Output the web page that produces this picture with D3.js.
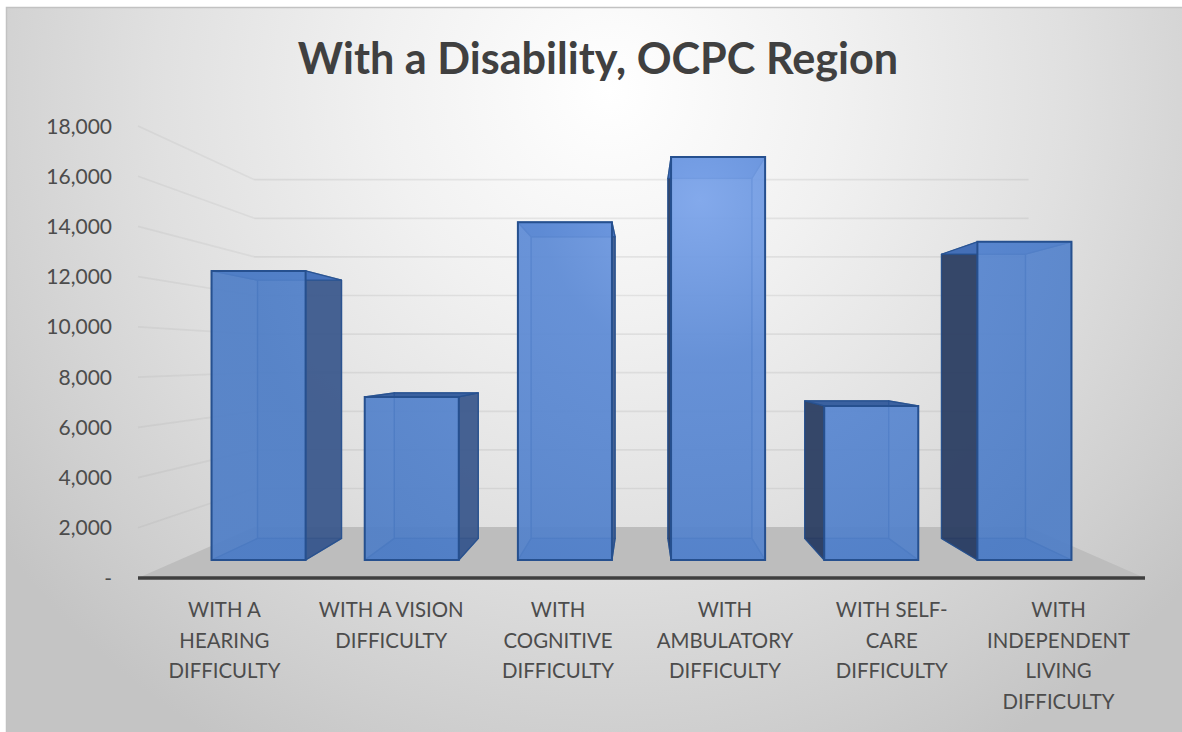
<!DOCTYPE html>
<html><head><meta charset="utf-8">
<script src="https://cdn.jsdelivr.net/npm/d3@7/dist/d3.min.js"></script>
<style>html,body{margin:0;padding:0;background:#fff}svg{display:block}</style>
</head><body><div id="c"></div>
<script>
const categories = [["WITH A","HEARING","DIFFICULTY"],["WITH A VISION","DIFFICULTY"],["WITH","COGNITIVE","DIFFICULTY"],["WITH","AMBULATORY","DIFFICULTY"],["WITH SELF-","CARE","DIFFICULTY"],["WITH","INDEPENDENT","LIVING","DIFFICULTY"]];
const values = [12540, 7070, 14650, 17480, 6680, 13800];
const yTicks = [0,2000,4000,6000,8000,10000,12000,14000,16000,18000];
const title = "With a Disability, OCPC Region";

const W=1182,H=732;
const svg=d3.select("#c").append("svg").attr("width",W).attr("height",H);
const defs=svg.append("defs");
const bg=defs.append("radialGradient").attr("id","bg").attr("gradientUnits","userSpaceOnUse")
  .attr("cx",0).attr("cy",0).attr("r",1).attr("gradientTransform","translate(610 90) scale(760 760)");
[[0,"#ffffff"],[0.3,"#f1f1f1"],[0.6,"#e0e0e0"],[0.85,"#cfcfcf"],[1,"#c4c4c4"]].forEach(s=>bg.append("stop").attr("offset",s[0]).attr("stop-color",s[1]));
const fg=defs.append("radialGradient").attr("id","face").attr("gradientUnits","userSpaceOnUse")
  .attr("cx",700).attr("cy",200).attr("r",460);
[[0,"#7ea6ec"],[0.35,"#5f8cd6"],[1,"#4f7ec6"]].forEach(s=>fg.append("stop").attr("offset",s[0]).attr("stop-color",s[1]));

svg.append("rect").attr("x",6).attr("y",7).attr("width",W-6).attr("height",H-7).attr("fill","url(#bg)");
svg.append("path").attr("fill","none").attr("stroke","#c2c2c2").attr("stroke-width",1.5).attr("d",d3.line()([[6.5,H],[6.5,7.5],[W,7.5]]));

const x=d3.scaleBand().domain(d3.range(categories.length)).range([141,1142]).paddingInner(0.386).paddingOuter(0.193);
const y=d3.scaleLinear().domain([0,18000]).range([578,126]);
const VP=[641.5,358];
const depth=d3.scaleLinear().domain([0,1]).range([1,0.7686]);
const P=(mx,my,d)=>{const s=depth(d);return [VP[0]+(mx-VP[0])*s,VP[1]+(my-VP[1])*s];};
const poly=pts=>"M"+pts.map(p=>p.join(",")).join("L")+"Z";

svg.append("path").attr("d",poly([P(138,y(0),0),P(1145,y(0),0),P(1145,y(0),1),P(138,y(0),1)])).attr("fill","#bdbdbd");
yTicks.slice(1).forEach(t=>{
  svg.append("path").attr("fill","none").attr("stroke","#8c8c8c").attr("stroke-opacity",0.11).attr("stroke-width",1.7)
    .attr("d",d3.line()([P(138,y(t),0),P(138,y(t),1)]));
  svg.append("path").attr("fill","none").attr("stroke","#8c8c8c").attr("stroke-opacity",0.17).attr("stroke-width",1.7)
    .attr("d",d3.line()([P(138,y(t),1),P(1145,y(t),1)]));
});
svg.append("path").attr("stroke","#3f3f3f").attr("stroke-width",3.5).attr("fill","none")
  .attr("d",d3.line()([P(138,y(0),0),P(1145,y(0),0)]));

const d0=0.354,d1=0.778;
const stroke="#26508f";
values.forEach((v,i)=>{
  const l=x(i),r=x(i)+x.bandwidth(),b=y(0),t=y(v);
  const g=svg.append("g");
  const face=(pts,fill,op)=>g.append("path").attr("d",poly(pts)).attr("fill",fill).attr("fill-opacity",op)
    .attr("stroke",stroke).attr("stroke-opacity",0.8).attr("stroke-width",1.3).attr("stroke-linejoin","round");
  face([P(l,b,d1),P(r,b,d1),P(r,t,d1),P(l,t,d1)],"#4f7fc9",0.4);
  face([P(l,b,d0),P(r,b,d0),P(r,b,d1),P(l,b,d1)],"#3f70c0",0.75);
  const center=(l+r)/2;
  if(center<VP[0]){ face([P(r,b,d0),P(r,b,d1),P(r,t,d1),P(r,t,d0)],"#3a568a",0.9);
                    face([P(l,b,d0),P(l,b,d1),P(l,t,d1),P(l,t,d0)],"#6f9be0",0.3);}
  else { face([P(l,b,d0),P(l,b,d1),P(l,t,d1),P(l,t,d0)],"#2b3d60",0.92);
         face([P(r,b,d0),P(r,b,d1),P(r,t,d1),P(r,t,d0)],"#6f9be0",0.3);}
  face([P(l,t,d0),P(r,t,d0),P(r,t,d1),P(l,t,d1)], t<VP[1]?"#4673c0":"#2d5699",0.9);
  g.append("path").attr("d",poly([P(l,b,d0),P(r,b,d0),P(r,t,d0),P(l,t,d0)]))
    .attr("fill","url(#face)").attr("fill-opacity",0.9).attr("stroke",stroke).attr("stroke-width",2);
});

const font="Lato, 'Open Sans', sans-serif";
const fmt=d3.format(",");
svg.append("g").selectAll("text").data(yTicks).join("text")
  .attr("x",112).attr("y",d=>y(d)+7.5).attr("text-anchor","end")
  .attr("font-family",font).attr("font-size",21).attr("fill","#4c4c4c")
  .text(d=>d===0?"-":fmt(d));
const cx=svg.append("g");
categories.forEach((lines,i)=>{
  const t=cx.append("text").attr("text-anchor","middle").attr("font-family",font).attr("font-size",20.4).attr("fill","#4c4c4c");
  lines.forEach((s,k)=>t.append("tspan").attr("x",x(i)+x.bandwidth()/2).attr("y",617+k*30.5).text(s));
});
svg.append("text").attr("x",598).attr("y",74).attr("text-anchor","middle")
  .attr("font-family","Lato,'Open Sans',sans-serif").attr("font-weight",700).attr("font-size",43.2).attr("fill","#404040").text(title);
</script></body></html>
